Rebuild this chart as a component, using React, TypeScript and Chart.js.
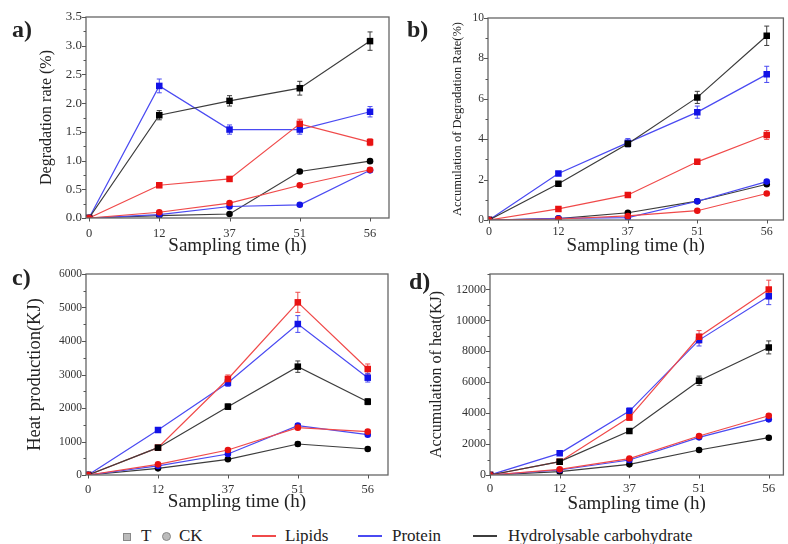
import React, { useEffect, useRef } from 'react';
import { Chart, registerables } from 'chart.js';

Chart.register(...registerables);

const FONT = "'Liberation Serif', 'Times New Roman', serif";

const categories = ['0', '12', '37', '51', '56'];

// a) Degradation rate (%)
const aTicks = [0, 0.5, 1, 1.5, 2, 2.5, 3, 3.5];
const aLipidsT = [0, 0.57, 0.68, 1.64, 1.32];
const aProteinT = [0, 2.3, 1.54, 1.54, 1.85];
const aCarbT = [0, 1.79, 2.04, 2.26, 3.08];
const aLipidsCK = [0, 0.1, 0.26, 0.57, 0.84];
const aProteinCK = [0, 0.06, 0.2, 0.23, 0.83];
const aCarbCK = [0, 0.04, 0.07, 0.81, 0.99];
const aLipidsTErr = [0, 0.04, 0.04, 0.08, 0.06];
const aProteinTErr = [0, 0.12, 0.08, 0.08, 0.09];
const aCarbTErr = [0, 0.08, 0.09, 0.12, 0.16];
const aCKErr = [0, 0.02, 0.02, 0.03, 0.03];

// b) Accumulation of Degradation Rate (%)
const bTicks = [0, 2, 4, 6, 8, 10];
const bLipidsT = [0, 0.55, 1.24, 2.88, 4.21];
const bProteinT = [0, 2.3, 3.83, 5.34, 7.21];
const bCarbT = [0, 1.79, 3.77, 6.07, 9.12];
const bLipidsCK = [0, 0.05, 0.2, 0.46, 1.31];
const bProteinCK = [0, 0.08, 0.12, 0.93, 1.9];
const bCarbCK = [0, 0.07, 0.36, 0.93, 1.77];
const bLipidsTErr = [0, 0.05, 0.1, 0.12, 0.22];
const bProteinTErr = [0, 0.1, 0.2, 0.3, 0.4];
const bCarbTErr = [0, 0.08, 0.15, 0.3, 0.48];
const bCKErr = [0, 0.02, 0.03, 0.05, 0.08];

// c) Heat production (KJ)
const cTicks = [0, 1000, 2000, 3000, 4000, 5000, 6000];
const cLipidsT = [0, 816, 2866, 5154, 3164];
const cProteinT = [0, 1343, 2756, 4507, 2905];
const cCarbT = [0, 816, 2040, 3234, 2189];
const cLipidsCK = [0, 318, 746, 1413, 1294];
const cProteinCK = [0, 270, 627, 1473, 1204];
const cCarbCK = [0, 199, 468, 925, 776];
const cLipidsTErr = [0, 50, 120, 300, 150];
const cProteinTErr = [0, 60, 110, 250, 130];
const cCarbTErr = [0, 40, 80, 170, 90];
const cCKErr = [0, 20, 30, 60, 50];

// d) Accumulation of heat (KJ)
const dTicks = [0, 2000, 4000, 6000, 8000, 10000, 12000];
const dLipidsT = [0, 862, 3727, 8940, 12000];
const dProteinT = [0, 1400, 4136, 8725, 11568];
const dCarbT = [0, 862, 2844, 6097, 8251];
const dLipidsCK = [0, 366, 1064, 2520, 3834];
const dProteinCK = [0, 323, 969, 2434, 3598];
const dCarbCK = [0, 215, 689, 1616, 2413];
const dLipidsTErr = [0, 60, 200, 400, 600];
const dProteinTErr = [0, 70, 200, 380, 550];
const dCarbTErr = [0, 50, 120, 300, 420];
const dCKErr = [0, 20, 60, 100, 120];

const RED_LINE = '#f04a4a';
const RED_PT = '#e81212';
const BLUE_LINE = '#4a4af2';
const BLUE_PT = '#1212e6';
const BLACK_LINE = '#3c3c3c';
const BLACK_PT = '#000000';

function ds(label: string, values: number[], errors: number[], line: string, pt: string, style: string) {
  return {
    label,
    data: values.map((y, i) => ({ x: i, y })),
    borderColor: line,
    backgroundColor: pt,
    pointBackgroundColor: pt,
    pointBorderColor: pt,
    pointBorderWidth: 0,
    pointStyle: style,
    pointRadius: style === 'rect' ? 4.6 : 3.3,
    borderWidth: 1.2,
    tension: 0,
    errors,
    errColor: line,
  };
}

const errorBars = {
  id: 'errorBars',
  beforeDatasetsDraw(chart: any) {
    const { ctx } = chart;
    const xs = chart.scales.x;
    const ys = chart.scales.y;
    chart.data.datasets.forEach((d: any) => {
      if (!d.errors) return;
      ctx.save();
      ctx.strokeStyle = d.errColor;
      ctx.lineWidth = 1;
      d.data.forEach((p: any, i: number) => {
        const e = d.errors[i];
        if (!e) return;
        const x = xs.getPixelForValue(p.x);
        const y1 = ys.getPixelForValue(p.y + e);
        const y2 = ys.getPixelForValue(p.y - e);
        ctx.beginPath();
        ctx.moveTo(x, y1);
        ctx.lineTo(x, y2);
        ctx.moveTo(x - 2.5, y1);
        ctx.lineTo(x + 2.5, y1);
        ctx.moveTo(x - 2.5, y2);
        ctx.lineTo(x + 2.5, y2);
        ctx.stroke();
      });
      ctx.restore();
    });
  },
};

const frame = {
  id: 'frame',
  afterDraw(chart: any, _args: any, opts: any) {
    const { ctx } = chart;
    const { left, right, top, bottom } = chart.chartArea;
    const xs = chart.scales.x;
    const ys = chart.scales.y;
    ctx.save();
    ctx.strokeStyle = '#666';
    ctx.lineWidth = 1.3;
    ctx.strokeRect(left, top, right - left, bottom - top);
    ctx.lineWidth = 1;
    ctx.strokeStyle = '#555';
    ctx.beginPath();
    const step = opts.minorStep;
    const n = Math.round(ys.max / step);
    for (let k = 0; k <= n; k++) {
      const v = k * step;
      const y = Math.round(ys.getPixelForValue(v)) + 0.5;
      const major = k % 2 === 0;
      ctx.moveTo(left, y);
      ctx.lineTo(left - (major ? 4 : 2.5), y);
    }
    categories.forEach((_c, i) => {
      const x = Math.round(xs.getPixelForValue(i)) + 0.5;
      ctx.moveTo(x, bottom);
      ctx.lineTo(x, bottom + 3.5);
    });
    ctx.stroke();
    ctx.restore();
  },
};

type PanelCfg = {
  yTicks: number[];
  yDec: number;
  yTitle: string;
  yTitleSize: number;
  yTickSize: number;
  xTickSize: number;
  padLeft: number;
  padTop: number;
  padRight: number;
  yWidth: number;
  xHeight: number;
  xTickPad: number;
  xTitlePad: number;
  xMin: number;
  xMax: number;
  yMax: number;
  minorStep: number;
  series: any[];
};

function makeConfig(p: PanelCfg): any {
  return {
    type: 'line',
    data: { datasets: p.series },
    plugins: [errorBars, frame],
    options: {
      responsive: false,
      animation: false,
      devicePixelRatio: 1,
      layout: { padding: { left: p.padLeft, top: p.padTop, right: p.padRight, bottom: 0 } },
      plugins: {
        legend: { display: false },
        tooltip: { enabled: false },
        frame: { minorStep: p.minorStep },
      },
      scales: {
        x: {
          type: 'linear',
          min: p.xMin,
          max: p.xMax,
          afterBuildTicks: (s: any) => {
            s.ticks = categories.map((_c, i) => ({ value: i }));
          },
          afterFit: (s: any) => {
            s.height = p.xHeight;
          },
          ticks: {
            autoSkip: false,
            maxRotation: 0,
            padding: p.xTickPad,
            color: '#333',
            font: { family: FONT, size: p.xTickSize },
            callback: (v: any) => categories[Math.round(v)] ?? '',
          },
          grid: { display: false, drawTicks: true, tickLength: 3 },
          border: { display: false },
          title: {
            display: true,
            text: 'Sampling time (h)',
            color: '#222',
            font: { family: FONT, size: 19 },
            padding: { top: 0, bottom: p.xTitlePad },
          },
        },
        y: {
          type: 'linear',
          min: 0,
          max: p.yMax,
          afterBuildTicks: (s: any) => {
            s.ticks = p.yTicks.map((v) => ({ value: v }));
          },
          afterFit: (s: any) => {
            s.width = p.yWidth;
          },
          ticks: {
            padding: 1,
            color: '#333',
            font: { family: FONT, size: p.yTickSize },
            callback: (v: any) => Number(v).toFixed(p.yDec),
          },
          grid: { display: false, drawTicks: true, tickLength: 3 },
          border: { display: false },
          title: {
            display: true,
            text: p.yTitle,
            color: '#222',
            font: { family: FONT, size: p.yTitleSize },
            padding: { top: 0, bottom: 0 },
          },
        },
      },
    },
  };
}

function seriesOf(
  lT: number[], pT: number[], cT: number[],
  lC: number[], pC: number[], cC: number[],
  lE: number[], pE: number[], cE: number[], ckE: number[]
) {
  return [
    ds('Lipids CK', lC, ckE, RED_LINE, RED_PT, 'circle'),
    ds('Protein CK', pC, ckE, BLUE_LINE, BLUE_PT, 'circle'),
    ds('Hydrolysable carbohydrate CK', cC, ckE, BLACK_LINE, BLACK_PT, 'circle'),
    ds('Hydrolysable carbohydrate T', cT, cE, BLACK_LINE, BLACK_PT, 'rect'),
    ds('Lipids T', lT, lE, RED_LINE, RED_PT, 'rect'),
    ds('Protein T', pT, pE, BLUE_LINE, BLUE_PT, 'rect'),
  ];
}

const panelA: PanelCfg = {
  yTicks: aTicks, yDec: 1, yTitle: 'Degradation rate (%)', yTitleSize: 16, yTickSize: 13, xTickSize: 12.5,
  padLeft: 37.4, padTop: 17, padRight: 6, yWidth: 48.6, xHeight: 44, xTickPad: 5.5, xTitlePad: 4.6,
  xMin: -0.043, xMax: 4.27, yMax: 3.5, minorStep: 0.25,
  series: seriesOf(aLipidsT, aProteinT, aCarbT, aLipidsCK, aProteinCK, aCarbCK, aLipidsTErr, aProteinTErr, aCarbTErr, aCKErr),
};

const panelB: PanelCfg = {
  yTicks: bTicks, yDec: 0, yTitle: 'Accumulation of Degradation Rate(%)', yTitleSize: 12.5, yTickSize: 11.5, xTickSize: 12,
  padLeft: 55.5, padTop: 18, padRight: 1, yWidth: 37.5, xHeight: 42, xTickPad: 1.5, xTitlePad: 4.6,
  xMin: -0.014, xMax: 4.24, yMax: 10, minorStep: 1,
  series: seriesOf(bLipidsT, bProteinT, bCarbT, bLipidsCK, bProteinCK, bCarbCK, bLipidsTErr, bProteinTErr, bCarbTErr, bCKErr),
};

const panelC: PanelCfg = {
  yTicks: cTicks, yDec: 0, yTitle: 'Heat production(KJ)', yTitleSize: 18.5, yTickSize: 11.5, xTickSize: 12.5,
  padLeft: 24, padTop: 12, padRight: 7, yWidth: 62, xHeight: 49, xTickPad: 4, xTitlePad: 10.6,
  xMin: -0.03, xMax: 4.29, yMax: 6000, minorStep: 500,
  series: seriesOf(cLipidsT, cProteinT, cCarbT, cLipidsCK, cProteinCK, cCarbCK, cLipidsTErr, cProteinTErr, cCarbTErr, cCKErr),
};

const panelD: PanelCfg = {
  yTicks: dTicks, yDec: 0, yTitle: 'Accumulation of heat(KJ)', yTitleSize: 16, yTickSize: 12, xTickSize: 13,
  padLeft: 32.4, padTop: 12, padRight: 1, yWidth: 62.6, xHeight: 49, xTickPad: 3, xTitlePad: 8.6,
  xMin: 0, xMax: 4.21, yMax: 13000, minorStep: 1000,
  series: seriesOf(dLipidsT, dProteinT, dCarbT, dLipidsCK, dProteinCK, dCarbCK, dLipidsTErr, dProteinTErr, dCarbTErr, dCKErr),
};

function Panel(props: { left: number; top: number; width: number; height: number; cfg: PanelCfg }) {
  const ref = useRef<HTMLCanvasElement>(null);
  useEffect(() => {
    const chart = new Chart(ref.current as HTMLCanvasElement, makeConfig(props.cfg));
    return () => chart.destroy();
  }, []);
  return (
    <canvas
      ref={ref}
      width={props.width}
      height={props.height}
      style={{ position: 'absolute', left: props.left, top: props.top, width: props.width, height: props.height }}
    />
  );
}

const labelStyle = (left: number, top: number): React.CSSProperties => ({
  position: 'absolute', left, top, fontFamily: FONT, fontSize: 24, fontWeight: 'bold', color: '#222', lineHeight: '26px',
});

const legText = (left: number): React.CSSProperties => ({
  position: 'absolute', left, top: 526, fontFamily: FONT, fontSize: 17, color: '#222', lineHeight: '20px', whiteSpace: 'nowrap',
});

const legLine = (left: number, color: string): React.CSSProperties => ({
  position: 'absolute', left, top: 535, width: 24, height: 1.5, background: color,
});

export default function App() {
  return (
    <div style={{ position: 'fixed', left: 0, top: 0, width: 788, height: 544, background: '#fff', overflow: 'hidden' }}>
      <Panel left={0} top={0} width={395} height={262} cfg={panelA} />
      <Panel left={395} top={0} width={393} height={262} cfg={panelB} />
      <Panel left={0} top={262} width={395} height={262} cfg={panelC} />
      <Panel left={395} top={262} width={393} height={262} cfg={panelD} />
      <div style={labelStyle(12, 16)}>a)</div>
      <div style={labelStyle(407, 16)}>b)</div>
      <div style={labelStyle(12, 264)}>c)</div>
      <div style={labelStyle(409, 268)}>d)</div>
      <div style={{ position: 'absolute', left: 123, top: 533, width: 6, height: 6, background: '#bbb', border: '1px solid #888' }} />
      <div style={legText(141)}>T</div>
      <div style={{ position: 'absolute', left: 162, top: 532, width: 7, height: 7, borderRadius: '50%', background: '#bbb', border: '1px solid #888' }} />
      <div style={legText(179)}>CK</div>
      <div style={legLine(252, RED_LINE)} />
      <div style={legText(285)}>Lipids</div>
      <div style={legLine(358, BLUE_LINE)} />
      <div style={legText(392)}>Protein</div>
      <div style={legLine(473, BLACK_LINE)} />
      <div style={legText(508)}>Hydrolysable carbohydrate</div>
    </div>
  );
}
